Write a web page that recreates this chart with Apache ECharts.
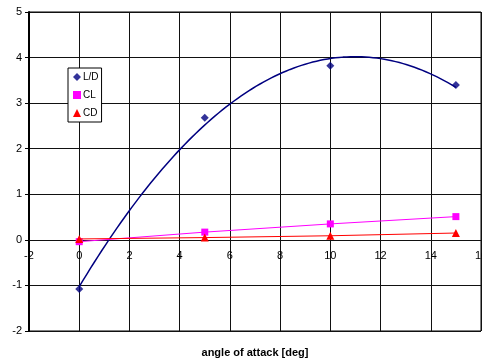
<!DOCTYPE html>
<html>
<head>
<meta charset="utf-8">
<script src="https://cdn.jsdelivr.net/npm/echarts@6/dist/echarts.min.js"></script>
<style>
html,body{margin:0;padding:0;background:#fff;}
#chart{width:482px;height:362px;}
</style>
</head>
<body>
<div id="chart"></div>
<script>
// ---- data ----
var angles = [0, 5, 10, 15];
var ldValues = [-1.08, 2.68, 3.82, 3.40];
var clValues = [-0.04, 0.17, 0.35, 0.51];
var cdValues = [0.02, 0.05, 0.09, 0.15];
var xTicks = [-2, 0, 2, 4, 6, 8, 10, 12, 14, 16];
var yTicks = [-2, -1, 0, 1, 2, 3, 4, 5];
var xTitle = 'angle of attack [deg]';

function pairs(xs, ys) { return xs.map(function (x, i) { return [x, ys[i]]; }); }

// 2nd-order polynomial least-squares trendline of L/D (as in the spreadsheet)
function polyFit2(xs, ys) {
  var S = [0,0,0,0,0], T = [0,0,0];
  for (var i = 0; i < xs.length; i++) {
    var p = 1;
    for (var k = 0; k < 5; k++) { S[k] += p; if (k < 3) T[k] += p * ys[i]; p *= xs[i]; }
  }
  var A = [[S[0],S[1],S[2],T[0]],[S[1],S[2],S[3],T[1]],[S[2],S[3],S[4],T[2]]];
  for (var c = 0; c < 3; c++) {
    for (var r = c + 1; r < 3; r++) {
      var f = A[r][c] / A[c][c];
      for (var j = c; j < 4; j++) A[r][j] -= f * A[c][j];
    }
  }
  var sol = [0,0,0];
  for (var r2 = 2; r2 >= 0; r2--) {
    var s = A[r2][3];
    for (var j2 = r2 + 1; j2 < 3; j2++) s -= A[r2][j2] * sol[j2];
    sol[r2] = s / A[r2][r2];
  }
  return sol;
}
var coef = polyFit2(angles, ldValues);
var trend = [];
var x0 = angles[0], x1 = angles[angles.length - 1];
for (var t = 0; t <= 100; t++) {
  var x = x0 + (x1 - x0) * t / 100;
  trend.push([x, coef[0] + coef[1] * x + coef[2] * x * x]);
}

var FONT = '"Liberation Sans", Arial, sans-serif';
var GRID_TOP = 12, GRID_BOTTOM = 31, H = 362;
var yMin = yTicks[0], yMax = yTicks[yTicks.length - 1];
// shift the x axis up so it sits on y = 0 of the value axis
var zeroOffset = -(H - GRID_TOP - GRID_BOTTOM) * (0 - yMin) / (yMax - yMin);

var chart = echarts.init(document.getElementById('chart'), null, {renderer: 'canvas'});
chart.setOption({
  animation: false,
  backgroundColor: '#fff',
  textStyle: {fontFamily: FONT},
  grid: {left: 29, right: 1, top: GRID_TOP, bottom: GRID_BOTTOM, show: true, borderColor: '#000', borderWidth: 1,
         containLabel: false, outerBoundsMode: 'none'},
  legend: {
    orient: 'vertical', left: 68, top: 68,
    padding: [4, 3, 4, 5], itemGap: 8, itemWidth: 8, itemHeight: 8,
    backgroundColor: '#fff', borderColor: '#000', borderWidth: 1,
    textStyle: {fontFamily: FONT, fontSize: 10, color: '#000', padding: [0, 0, 0, -3]},
    data: [
      {name: 'L/D', icon: 'diamond'},
      {name: 'CL', icon: 'rect'},
      {name: 'CD', icon: 'triangle'}
    ]
  },
  xAxis: {
    type: 'value', position: 'bottom', offset: zeroOffset,
    min: xTicks[0], max: xTicks[xTicks.length - 1], interval: 2,
    axisLine: {show: true, onZero: false, lineStyle: {color: '#111', width: 1}},
    axisTick: {show: false},
    axisLabel: {color: '#000', fontSize: 11, fontFamily: FONT, margin: 11, showMinLabel: true, showMaxLabel: true,
                alignMinLabel: 'center', alignMaxLabel: 'center', hideOverlap: false},
    splitLine: {show: true, lineStyle: {color: '#111', width: 1}}
  },
  yAxis: {
    type: 'value', min: yMin, max: yMax, interval: 1,
    axisLine: {show: true, onZero: false, lineStyle: {color: '#000', width: 2}},
    axisTick: {show: true, inside: false, length: 4, lineStyle: {color: '#000'}},
    axisLabel: {color: '#000', fontSize: 11, fontFamily: FONT, margin: 7},
    splitLine: {show: true, lineStyle: {color: '#111', width: 1}}
  },
  graphic: [{
    type: 'text', x: 255, y: 353,
    style: {text: xTitle, fill: '#000', font: 'bold 11px ' + FONT, textAlign: 'center', textVerticalAlign: 'middle'}
  }],
  series: [
    {
      name: 'L/D trend', type: 'line', data: trend, showSymbol: false, symbol: 'none',
      lineStyle: {color: '#000080', width: 1.5}, z: 3, silent: true
    },
    {
      name: 'CL', type: 'line', data: pairs(angles, clValues),
      symbol: 'rect', symbolSize: 7,
      itemStyle: {color: '#FF00FF'}, lineStyle: {color: '#FF00FF', width: 1}, z: 4
    },
    {
      name: 'CD', type: 'line', data: pairs(angles, cdValues),
      symbol: 'triangle', symbolSize: 8,
      itemStyle: {color: '#FF0000'}, lineStyle: {color: '#FF0000', width: 1}, z: 5
    },
    {
      name: 'L/D', type: 'scatter', data: pairs(angles, ldValues),
      symbol: 'diamond', symbolSize: 8,
      itemStyle: {color: '#000080'}, z: 6
    }
  ]
});
</script>
</body>
</html>
